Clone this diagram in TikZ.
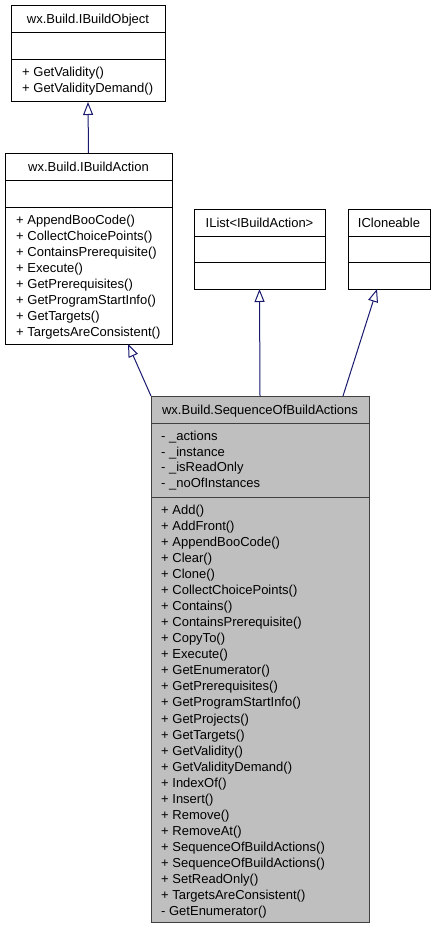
\documentclass[tikz,border=0pt]{standalone}
\usepackage{fontspec}
\setmainfont{Liberation Sans}
\usetikzlibrary{arrows.meta}
\definecolor{mblue}{HTML}{191970}
\definecolor{seqfill}{HTML}{BFBFBF}
\definecolor{seqline}{HTML}{404040}
\begin{document}
\begin{tikzpicture}[x=1pt,y=-1pt,
 box/.style={draw=black, line width=1pt, fill=white, inner sep=0pt, outer sep=0pt, anchor=north west},
 sep/.style={draw=black, line width=1pt},
 txt/.style={anchor=base west, inner sep=0pt, font=\fontsize{13}{16}\selectfont},
 ttl/.style={anchor=base, inner sep=0pt, font=\fontsize{13}{16}\selectfont},
 inh/.style={draw=mblue, line width=1pt, -{Triangle[open, length=13pt, width=10pt]}}]

\fill[white] (0,0) rectangle (435,931);
\useasboundingbox (0,0) rectangle (435,931);

% IBuildObject
\node[box, minimum width=154pt, minimum height=96pt] (ibo) at (11,6) {};
\draw[sep] (11,33) -- (165,33);
\draw[sep] (11,60) -- (165,60);
\node[ttl] (ibot) at (88,24) {wx.Build.IBuildObject};
\foreach \t [count=\i from 0] in {+ GetValidity(), + GetValidityDemand()}
  \node[txt] (ibom\i) at (22,{76.5+16*\i}) {\t};

% IBuildAction
\node[box, minimum width=167pt, minimum height=191pt] (iba) at (5,153) {};
\draw[sep] (5,180) -- (172,180);
\draw[sep] (5,207) -- (172,207);
\node[ttl] (ibat) at (88.5,171) {wx.Build.IBuildAction};
\foreach \t [count=\i from 0] in {+ AppendBooCode(), + CollectChoicePoints(), + ContainsPrerequisite(), + Execute(), + GetPrerequisites(), + GetProgramStartInfo(), + GetTargets(), + TargetsAreConsistent()}
  \node[txt] (ibam\i) at (16,{224.5+16*\i}) {\t};

% IList<IBuildAction>
\node[box, minimum width=131pt, minimum height=80pt] (ilist) at (194,209) {};
\draw[sep] (194,236) -- (325,236);
\draw[sep] (194,262) -- (325,262);
\node[ttl] (ilistt) at (259.5,227) {IList<IBuildAction>};

% ICloneable
\node[box, minimum width=82pt, minimum height=80pt] (icl) at (348,209) {};
\draw[sep] (348,236) -- (430,236);
\draw[sep] (348,262) -- (430,262);
\node[ttl] (iclt) at (389,227) {ICloneable};

% SequenceOfBuildActions
\node[box, draw=seqline, fill=seqfill, minimum width=218pt, minimum height=526pt] (seq) at (151,396) {};
\draw[sep, draw=seqline] (151,423) -- (369,423);
\draw[sep, draw=seqline] (151,497) -- (369,497);
\node[ttl] (seqt) at (260,414) {wx.Build.SequenceOfBuildActions};
\foreach \t [count=\i from 0] in {- \_actions, - \_instance, - \_isReadOnly, - \_noOfInstances}
  \node[txt] (seqa\i) at (161,{440.5+15.7*\i}) {\t};
\foreach \t [count=\i from 0] in {+ Add(), + AddFront(), + AppendBooCode(), + Clear(), + Clone(), + CollectChoicePoints(), + Contains(), + ContainsPrerequisite(), + CopyTo(), + Execute(), + GetEnumerator(), + GetPrerequisites(), + GetProgramStartInfo(), + GetProjects(), + GetTargets(), + GetValidity(), + GetValidityDemand(), + IndexOf(), + Insert(), + Remove(), + RemoveAt(), + SequenceOfBuildActions(), + SequenceOfBuildActions(), + SetReadOnly(), + TargetsAreConsistent(), - GetEnumerator()}
  \node[txt] (seqm\i) at (161,{514.5+16.04*\i}) {\t};

% inheritance
\draw[inh] (iba.north) -- (ibo.south);
\draw[inh] (seq.north west) -- ([xshift=39.5pt]iba.south);
\draw[inh] (seq.north) -- (ilist.south);
\draw[inh] ([xshift=-26pt]seq.north east) -- ([xshift=-12pt]icl.south);
\end{tikzpicture}
\end{document}
